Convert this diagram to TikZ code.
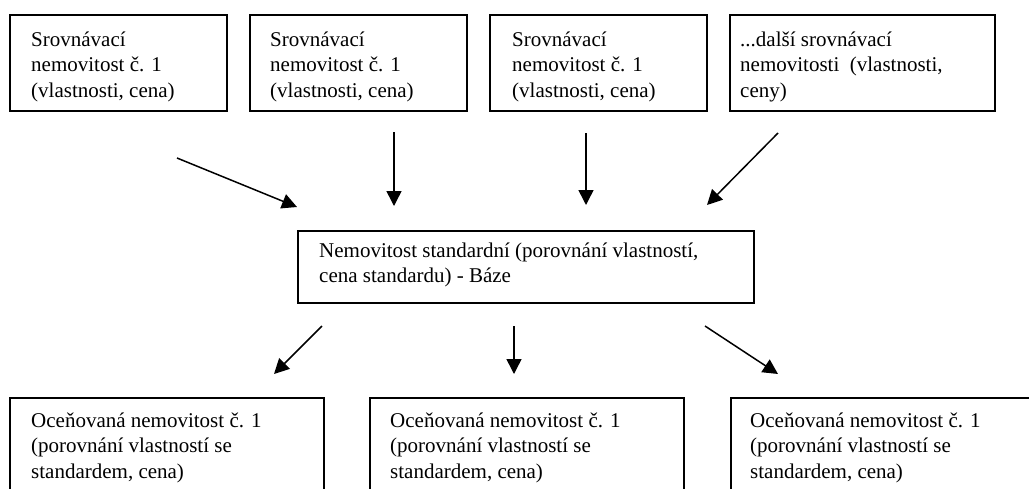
\documentclass[tikz,border=0pt]{standalone}
\usepackage{fontspec}
\setmainfont{Liberation Serif}
\usetikzlibrary{arrows.meta}
\tikzset{
  boxshape/.style={draw=black, line width=1.6pt, rectangle, inner sep=0pt, anchor=north west},
  boxtext/.style={inner sep=0pt, anchor=base west, font=\fontsize{21}{25.5}\selectfont},
  flow/.style={line width=1.5pt, -{Triangle[length=15pt,width=15pt]}}
}
\newcommand{\boxlines}[2]{\parbox[t]{#1}{\raggedright #2}}
\begin{document}
\begin{tikzpicture}[x=1pt,y=-1pt]
\clip (0,0) rectangle (1029,488);
\fill[white] (0,0) rectangle (1029,488);
% top boxes
\node[boxshape, minimum width=217pt, minimum height=96pt] (t1) at (9,14) {};
\node[boxshape, minimum width=217pt, minimum height=96pt] (t2) at (249,14) {};
\node[boxshape, minimum width=217pt, minimum height=96pt] (t3) at (489,14) {};
\node[boxshape, minimum width=265pt, minimum height=96pt] (t4) at (729,14) {};
\node[boxtext] (t1txt) at (31,46) {\boxlines{200pt}{Srovnávací\\nemovitost č. 1\\(vlastnosti, cena)}};
\node[boxtext] (t2txt) at (270,46) {\boxlines{200pt}{Srovnávací\\nemovitost č. 1\\(vlastnosti, cena)}};
\node[boxtext] (t3txt) at (512,46) {\boxlines{200pt}{Srovnávací\\nemovitost č. 1\\(vlastnosti, cena)}};
\node[boxtext] (t4txt) at (740,46) {\boxlines{260pt}{...další srovnávací\\nemovitosti\ \ (vlastnosti,\\ceny)}};
% middle box
\node[boxshape, minimum width=456pt, minimum height=72pt] (m) at (297,230) {};
\node[boxtext] (mtxt) at (319,257) {\boxlines{430pt}{Nemovitost standardní (porovnání vlastností,\\cena standardu) - Báze}};
% bottom boxes
\node[boxshape, minimum width=314pt, minimum height=140pt] (b1) at (9,397) {};
\node[boxshape, minimum width=314pt, minimum height=140pt] (b2) at (369,397) {};
\node[boxshape, minimum width=314pt, minimum height=140pt] (b3) at (730,397) {};
\node[boxtext] (b1txt) at (31,427) {\boxlines{290pt}{Oceňovaná nemovitost č. 1\\(porovnání vlastností se\\standardem, cena)}};
\node[boxtext] (b2txt) at (390,427) {\boxlines{290pt}{Oceňovaná nemovitost č. 1\\(porovnání vlastností se\\standardem, cena)}};
\node[boxtext] (b3txt) at (750,427) {\boxlines{270pt}{Oceňovaná nemovitost č. 1\\(porovnání vlastností se\\standardem, cena)}};
% arrow end points
\coordinate (a1s) at (177,158); \coordinate (a1e) at (297,207);
\coordinate (a2s) at (394,132); \coordinate (a2e) at (394,206);
\coordinate (a3s) at (586,133); \coordinate (a3e) at (586,205);
\coordinate (a4s) at (778,133); \coordinate (a4e) at (707,205);
\coordinate (c1s) at (322,326); \coordinate (c1e) at (274,374);
\coordinate (c2s) at (514,326); \coordinate (c2e) at (514,374);
\coordinate (c3s) at (705,326); \coordinate (c3e) at (778,374);
\draw[flow] (a1s) -- (a1e);
\draw[flow] (a2s) -- (a2e);
\draw[flow] (a3s) -- (a3e);
\draw[flow] (a4s) -- (a4e);
\draw[flow] (c1s) -- (c1e);
\draw[flow] (c2s) -- (c2e);
\draw[flow] (c3s) -- (c3e);
\end{tikzpicture}
\end{document}
